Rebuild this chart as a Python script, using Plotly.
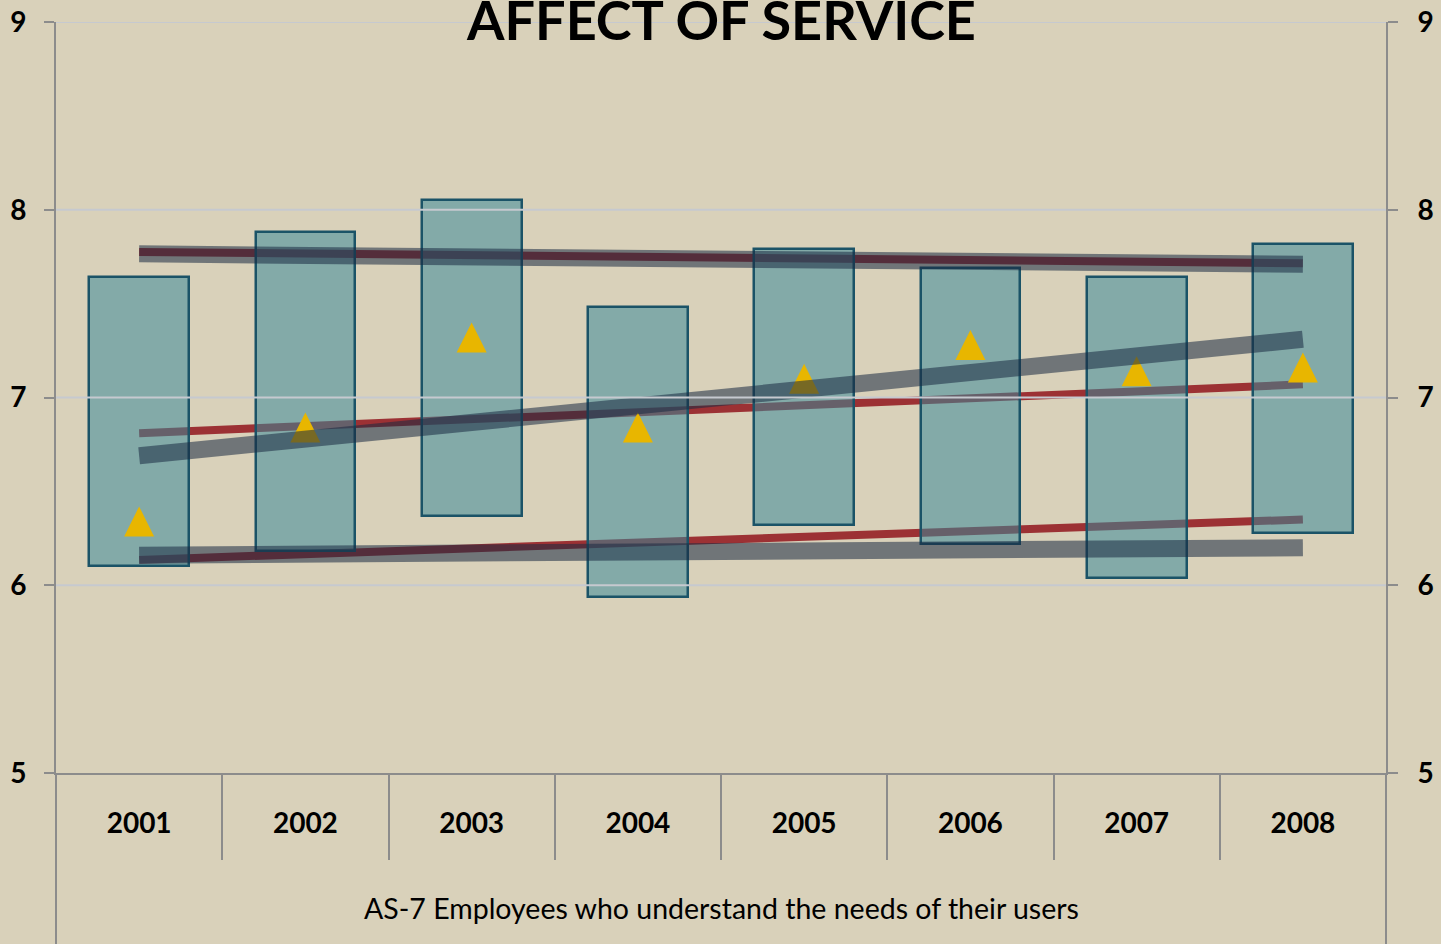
import plotly.graph_objects as go

years = ["2001", "2002", "2003", "2004", "2005", "2006", "2007", "2008"]
low = [6.10, 6.18, 6.37, 5.94, 6.32, 6.22, 6.04, 6.28]
high = [7.64, 7.88, 8.05, 7.48, 7.79, 7.69, 7.64, 7.82]
mean = [6.34, 6.84, 7.32, 6.84, 7.10, 7.28, 7.14, 7.16]

trend_years = ["2001", "2008"]
red_top = [7.775, 7.715]
red_mid = [6.81, 7.07]
red_low = [6.135, 6.35]
gray_top = [7.765, 7.71]
gray_mid = [6.69, 7.31]
gray_low = [6.16, 6.20]

y_ticks = [5, 6, 7, 8, 9]
grid_vals = [6, 7, 8, 9]

title_text = "AFFECT OF SERVICE"
axis_title = "AS-7 Employees who understand the needs of their users"

BG = "#D9D1BA"
AXIS = "#8C8C8C"
GRID = "#C6C9CF"
RED = "#9C3134"
GRAY = "rgba(25,42,66,0.55)"
FONT = "Lato"

fig = go.Figure()

for ys in (red_top, red_mid, red_low):
    fig.add_trace(go.Scatter(x=trend_years, y=ys, mode="lines",
                             line=dict(color=RED, width=8),
                             xaxis="x", yaxis="y", showlegend=False, hoverinfo="skip"))

fig.add_trace(go.Bar(x=years, y=[h - l for h, l in zip(high, low)], base=low,
                     width=0.6,
                     marker=dict(color="rgba(57,136,154,0.54)",
                                 line=dict(color="#1B5367", width=2.5)),
                     xaxis="x2", yaxis="y2", showlegend=False))

fig.add_trace(go.Scatter(x=years, y=mean, mode="markers",
                         marker=dict(symbol="arrow-down", angle=180, size=30, standoff=15,
                                     color="#E8B600", line=dict(width=0)),
                         xaxis="x2", yaxis="y2", showlegend=False))

for ys in (gray_top, gray_mid, gray_low):
    fig.add_trace(go.Scatter(x=trend_years, y=ys, mode="lines",
                             line=dict(color=GRAY, width=17),
                             xaxis="x2", yaxis="y2", showlegend=False, hoverinfo="skip"))

shapes = []
for v in grid_vals:
    shapes.append(dict(type="line", xref="paper", yref="y", x0=0, x1=1, y0=v, y1=v,
                       line=dict(color=GRID, width=2), layer="above"))
for xp in (0, 1):
    shapes.append(dict(type="line", xref="paper", yref="paper", x0=xp, x1=xp, y0=0, y1=-0.3,
                       line=dict(color=AXIS, width=2), layer="above"))

tickfont = dict(family=FONT, size=28, color="black", weight="bold")

fig.update_layout(
    width=1441, height=944,
    margin=dict(l=56, r=55, t=22, b=171, autoexpand=False),
    paper_bgcolor=BG, plot_bgcolor=BG,
    font=dict(family=FONT, color="black"),
    bargap=0,
    shapes=shapes,
    xaxis=dict(type="category", categoryorder="array", categoryarray=years,
               range=[-0.5, 7.5], showgrid=False, showline=True, linecolor=AXIS, linewidth=2,
               ticks="outside", tickson="boundaries", ticklen=85, tickwidth=2, tickcolor=AXIS,
               ticklabelstandoff=24, tickfont=tickfont, automargin=False,
               zeroline=False, fixedrange=True),
    xaxis2=dict(type="category", categoryorder="array", categoryarray=years,
                range=[-0.5, 7.5], overlaying="x", visible=False, anchor="y2", automargin=False),
    yaxis=dict(range=[5, 9], tickvals=y_ticks, showgrid=False, showline=True, linecolor=AXIS,
               linewidth=2, ticks="outside", ticklen=10, tickwidth=2, tickcolor=AXIS,
               ticklabelstandoff=12, zeroline=False, tickfont=tickfont, automargin=False),
    yaxis2=dict(range=[5, 9], tickvals=y_ticks, overlaying="y", side="right", anchor="x2",
                showgrid=False, showline=True, linecolor=AXIS,
                linewidth=2, ticks="outside", ticklen=10, tickwidth=2, tickcolor=AXIS,
                ticklabelstandoff=14, zeroline=False, tickfont=tickfont, automargin=False),
    annotations=[
        dict(text=title_text, xref="paper", yref="paper", x=0.5, y=1, yanchor="bottom",
             yshift=-32, showarrow=False,
             font=dict(family=FONT, size=54, color="black", weight="bold")),
        dict(text=axis_title, xref="paper", yref="paper", x=0.5, y=0, yanchor="middle",
             yshift=-135, showarrow=False,
             font=dict(family=FONT, size=28.5, color="black")),
    ],
)

fig.write_html("out.html", config={"displayModeBar": False},
               post_script="document.body.style.margin='0';document.body.style.overflow='hidden';")
